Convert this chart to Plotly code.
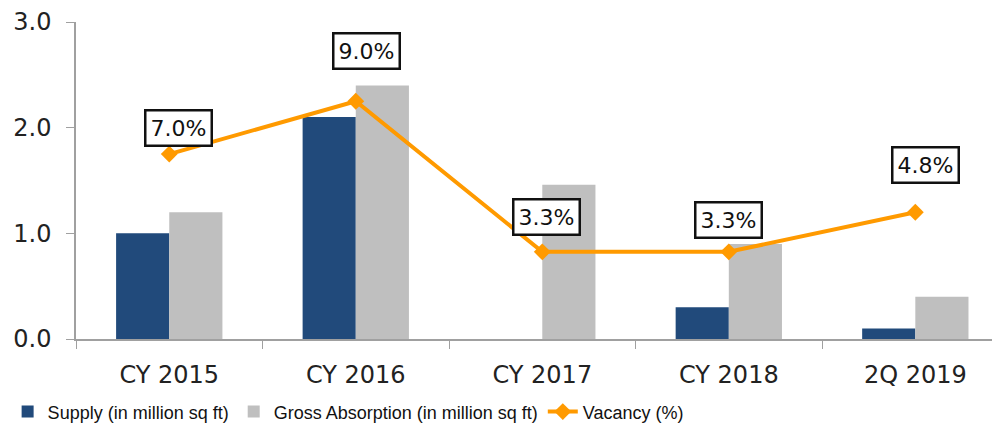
import plotly.graph_objects as go

categories = ["CY 2015", "CY 2016", "CY 2017", "CY 2018", "2Q 2019"]
supply = [1.0, 2.1, 0.0, 0.3, 0.1]
absorption = [1.2, 2.4, 1.46, 0.9, 0.4]
vacancy = [7.0, 9.0, 3.3, 3.3, 4.8]
vacancy_labels = ["7.0%", "9.0%", "3.3%", "3.3%", "4.8%"]
label_shift = [(9, 26), (11, 50), (4, 35), (0, 32), (10, 47)]

BLUE = "#214A7B"
GRAY = "#BFBFBF"
ORANGE = "#FF9A00"
FONT = "DejaVu Sans"

fig = go.Figure()
fig.add_trace(go.Bar(x=categories, y=supply, name="Supply (in million sq ft)",
                     marker=dict(color=BLUE, line=dict(width=0))))
fig.add_trace(go.Bar(x=categories, y=absorption, name="Gross Absorption (in million sq ft)",
                     marker=dict(color=GRAY, line=dict(width=0))))
fig.add_trace(go.Scatter(x=categories, y=vacancy, name="Vacancy (%)", yaxis="y2",
                         mode="lines+markers",
                         line=dict(color=ORANGE, width=4),
                         marker=dict(symbol="diamond", size=13, color=ORANGE)))

for c, v, t, (dx, dy) in zip(categories, vacancy, vacancy_labels, label_shift):
    fig.add_annotation(x=c, y=v, yref="y2", text=t, showarrow=False,
                       xshift=dx, yshift=dy,
                       font=dict(family=FONT, size=22, color="#111111"),
                       bgcolor="white", bordercolor="#111111", borderwidth=2.5,
                       borderpad=4)

fig.update_layout(
    width=992, height=420,
    margin=dict(l=68, r=0, t=14, b=89, autoexpand=False),
    paper_bgcolor="white", plot_bgcolor="white",
    barmode="group", bargap=0.43, bargroupgap=0,
    font=dict(family=FONT, size=22, color="#222222"),
    showlegend=True,
    legend=dict(orientation="h", x=-0.074, xanchor="left", y=-0.23, yanchor="middle",
                font=dict(family="Liberation Sans", size=18, color="#111111"),
                itemwidth=30, tracegroupgap=0, bgcolor="rgba(0,0,0,0)"),
    xaxis=dict(type="category", range=[-0.5, 4.454], showgrid=False, automargin=False,
               showline=True, linecolor="#A0A0A0", linewidth=1.5,
               ticks="outside", tickson="boundaries", ticklen=8, tickcolor="#A0A0A0",
               ticklabelstandoff=13,
               tickfont=dict(size=24, family=FONT, color="#222222")),
    yaxis=dict(range=[0, 3], dtick=1, tickformat=".1f", showgrid=False, zeroline=False,
               automargin=False,
               showline=True, linecolor="#A0A0A0", linewidth=1.5,
               ticks="outside", ticklen=8, tickcolor="#A0A0A0",
               ticklabelstandoff=10,
               tickfont=dict(size=24, family=FONT, color="#222222")),
    yaxis2=dict(range=[0, 12], overlaying="y", side="right", visible=False),
)

fig.write_html("out.html")
